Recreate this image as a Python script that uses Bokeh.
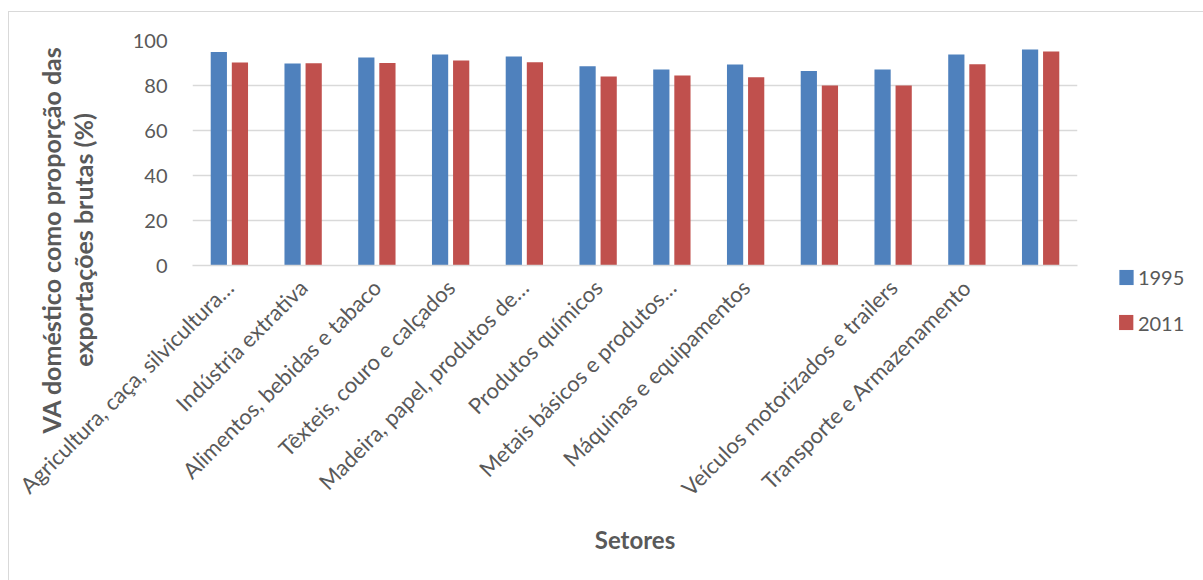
from math import pi

from bokeh.embed import file_html
from bokeh.models import (ColumnDataSource, FactorRange, InlineStyleSheet, Label,
                          Range1d, SingleIntervalTicker)
from bokeh.plotting import figure
from bokeh.resources import INLINE
from bokeh.transform import dodge

# Sectors (two of them carry no printed name on the axis)
setores = [
    "Agricultura, caça, silvicultura…",
    "Indústria extrativa",
    "Alimentos, bebidas e tabaco",
    "Têxteis, couro e calçados",
    "Madeira, papel, produtos de…",
    "Produtos químicos",
    "Metais básicos e produtos…",
    "Máquinas e equipamentos",
    " ",
    "Veículos motorizados e trailers",
    "Transporte e Armazenamento",
    "  ",
]

# Domestic value added as a share of gross exports (%)
va_1995 = [94.9, 89.8, 92.4, 93.8, 92.9, 88.6, 87.1, 89.3, 86.5, 87.1, 93.8, 96.0]
va_2011 = [90.2, 89.9, 90.0, 91.1, 90.3, 84.0, 84.4, 83.7, 80.0, 80.0, 89.5, 95.1]

series = ["1995", "2011"]
cores = ["#4F81BD", "#C0504D"]

FONT = "Lato"
GRAY = "#595959"
GRID = "#d9d9d9"

src = ColumnDataSource(dict(setor=setores, a1995=va_1995, a2011=va_2011))

# thin light frame around the whole chart (only its top/left edges fall inside the page)
frame_css = InlineStyleSheet(css="""
:host { position: relative; }
:host::after {
  content: ""; position: absolute; left: 8px; top: 11px; width: 1400px; height: 800px;
  border: 1.5px solid #d9d9d9; pointer-events: none; z-index: 10;
}
""")

p = figure(
    width=1203, height=580,
    x_range=FactorRange(*setores, range_padding=0),
    y_range=Range1d(0, 100),
    output_backend="svg", toolbar_location=None,
    min_border_left=192, min_border_right=126,
    min_border_top=40, min_border_bottom=315,
    stylesheets=[frame_css],
)
p.x_range.factor_padding = 0
p.outline_line_color = None

p.vbar(x=dodge("setor", -0.143, range=p.x_range), top="a1995", width=0.22,
       source=src, fill_color=cores[0], line_color=None)
p.vbar(x=dodge("setor", 0.143, range=p.x_range), top="a2011", width=0.22,
       source=src, fill_color=cores[1], line_color=None)

# y axis
p.yaxis.ticker = SingleIntervalTicker(interval=20)
p.yaxis.axis_line_color = None
p.yaxis.major_tick_line_color = None
p.yaxis.minor_tick_line_color = None
p.yaxis.major_label_standoff = 19
p.yaxis.major_label_text_font = FONT
p.yaxis.major_label_text_font_size = "20px"
p.yaxis.major_label_text_color = GRAY

p.ygrid.grid_line_color = GRID
p.ygrid.grid_line_width = 1.5
p.xgrid.grid_line_color = None

# x axis
p.xaxis.axis_line_color = GRID
p.xaxis.axis_line_width = 1.5
p.xaxis.major_tick_line_color = None
p.xaxis.minor_tick_line_color = None
p.xaxis.major_label_orientation = pi / 4
p.xaxis.major_label_standoff = 12
p.xaxis.major_label_text_font = FONT
p.xaxis.major_label_text_font_size = "22px"
p.xaxis.major_label_text_color = GRAY
p.xaxis.axis_label = "Setores"
p.xaxis.axis_label_standoff = 12
p.xaxis.axis_label_text_font = FONT
p.xaxis.axis_label_text_font_style = "bold"
p.xaxis.axis_label_text_font_size = "24px"
p.xaxis.axis_label_text_color = GRAY

# two-line y axis title, set in the left border panel
for txt, xs in [("exportações brutas (%)", -16.5), ("VA doméstico como proporção das", -18.5)]:
    p.add_layout(Label(x=xs, y=25.5, x_units="screen", y_units="screen", text=txt,
                       angle=pi / 2, text_align="center", text_baseline="middle",
                       text_font=FONT, text_font_style="bold",
                       text_font_size="25px", text_color=GRAY), "left")

# legend in the right border panel: two colour keys, then the series names
for cor, xs, ys in [(cores[0], 49, -12), (cores[1], 34.7, -57)]:
    p.add_layout(Label(x=xs, y=ys, x_units="screen", y_units="screen", text="\u00a0",
                       text_font_size="1px", padding=7,
                       text_align="center", text_baseline="middle",
                       background_fill_color=cor, text_color=cor), "right")

p.add_layout(Label(x=32.4, y=-34.5, x_units="screen", y_units="screen",
                   text="\n".join(series), text_align="left", text_baseline="middle",
                   text_line_height=1.9,
                   text_font=FONT, text_font_size="20px", text_color=GRAY), "right")

open("out.html", "w").write(file_html(p, INLINE))
